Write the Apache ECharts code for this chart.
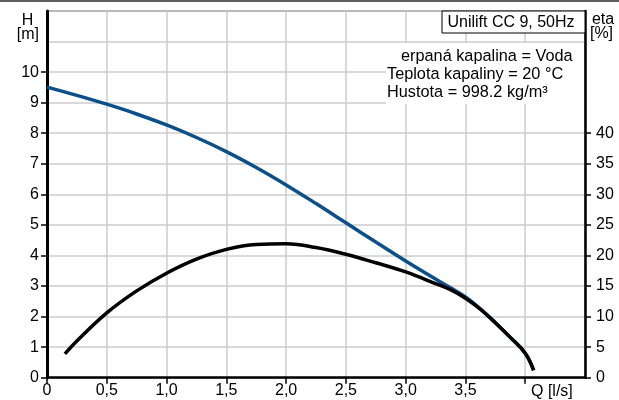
<!DOCTYPE html>
<html><head><meta charset="utf-8">
<script src="https://cdn.jsdelivr.net/npm/echarts@6/dist/echarts.min.js"></script>
<style>html,body{margin:0;padding:0;background:#fff}#c{width:619px;height:400px}</style>
</head><body><div id="c"></div>
<script>
var qH = [0, 0.25, 0.5, 0.75, 1.0, 1.25, 1.5, 1.75, 2.0, 2.25, 2.5, 2.75, 3.0, 3.25, 3.375, 3.5, 3.625, 3.75, 3.875, 4.0, 4.07];
var headH = [9.51, 9.24, 8.95, 8.63, 8.27, 7.86, 7.40, 6.88, 6.31, 5.70, 5.07, 4.44, 3.82, 3.23, 2.94, 2.64, 2.25, 1.80, 1.32, 0.80, 0.25];
var qEta = [0.15, 0.25, 0.5, 0.75, 1.0, 1.25, 1.5, 1.75, 2.0, 2.25, 2.5, 2.75, 3.0, 3.25, 3.375, 3.5, 3.625, 3.75, 3.875, 4.0, 4.07];
var etaPct = [3.9, 6.0, 10.6, 14.2, 17.1, 19.4, 21.0, 21.8, 21.9, 21.3, 20.2, 18.8, 17.3, 15.4, 14.4, 13.0, 11.2, 9.0, 6.6, 4.0, 1.2];
var xLabelVals = [0, 0.5, 1.0, 1.5, 2.0, 2.5, 3.0, 3.5];
var xTickVals = [0, 0.5, 1.0, 1.5, 2.0, 2.5, 3.0, 3.5, 4.0];
var hTickVals = [0, 1, 2, 3, 4, 5, 6, 7, 8, 9, 10];
var etaTickVals = [0, 5, 10, 15, 20, 25, 30, 35, 40];
var titleText = 'Unilift CC 9, 50Hz';
var infoLines = ['erpaná kapalina = Voda', 'Teplota kapaliny = 20 °C', 'Hustota = 998.2 kg/m³'];

var FONT = '"Liberation Sans", Arial, sans-serif';
var chart = echarts.init(document.getElementById('c'), null, {renderer: 'canvas'});
function pairs(xs, ys) { return xs.map(function (x, i) { return [x, ys[i]]; }); }
var gridLine = {show: true, lineStyle: {color: '#cccccc', width: 1.5}};
var hidden = {show: false};
function txt(t, x, y, align, size) {
  return {type: 'text', x: x, y: y, z: 7, style: {text: t, align: align || 'left', verticalAlign: 'middle', font: (size || 16) + 'px ' + FONT, fill: '#000'}};
}
var option = {
  animation: false,
  backgroundColor: '#fff',
  grid: {left: 47, right: 34, top: 11, bottom: 22.3, show: true, borderColor: '#000', borderWidth: 1, outerBoundsMode: 'none'},
  xAxis: [{
    type: 'value', min: 0, max: 4.5, interval: 0.5,
    axisLine: hidden, axisTick: hidden, axisLabel: hidden,
    splitLine: gridLine, z: 0
  }, {
    type: 'value', min: 0, max: 4.5, interval: 0.5, position: 'bottom',
    axisLine: {onZero: false, lineStyle: {color: '#000', width: 2.5}},
    axisTick: {customValues: xTickVals, length: 6, lineStyle: {color: '#000', width: 1.5}},
    axisLabel: {customValues: xLabelVals, margin: 5, fontFamily: FONT, fontSize: 16, color: '#000',
      formatter: function (v) { return v === 0 ? '0' : v.toFixed(1).replace('.', ','); }},
    splitLine: hidden, z: 2
  }],
  yAxis: [{
    type: 'value', min: 0, max: 12, interval: 1, position: 'left',
    axisLine: {show: true, onZero: false, lineStyle: {color: '#000', width: 3}},
    axisTick: {show: true, customValues: hTickVals, length: 6, lineStyle: {color: '#000', width: 1.5}},
    axisLabel: {customValues: hTickVals, margin: 8, fontFamily: FONT, fontSize: 16, color: '#000'},
    splitLine: hidden, z: 2
  }, {
    type: 'value', min: 0, max: 60, interval: 5, position: 'right',
    axisLine: {show: true, onZero: false, lineStyle: {color: '#000', width: 2.5}},
    axisTick: {show: true, customValues: etaTickVals, length: 6, lineStyle: {color: '#000', width: 1.5}},
    axisLabel: {customValues: etaTickVals, margin: 11, fontFamily: FONT, fontSize: 16, color: '#000'},
    splitLine: hidden, z: 2
  }, {
    type: 'value', min: 0, max: 12, interval: 1, position: 'left',
    axisLine: hidden, axisTick: hidden, axisLabel: hidden,
    splitLine: gridLine, z: 0
  }],
  series: [{
    type: 'line', xAxisIndex: 1, yAxisIndex: 0, data: pairs(qH, headH), showSymbol: false, smooth: 0.4,
    lineStyle: {color: '#0b4f8b', width: 3.5}, z: 3
  }, {
    type: 'line', xAxisIndex: 1, yAxisIndex: 1, data: pairs(qEta, etaPct), showSymbol: false, smooth: 0.4,
    lineStyle: {color: '#000', width: 3.5}, z: 4
  }],
  graphic: [
    {type: 'rect', shape: {x: 0, y: 0, width: 619, height: 2}, style: {fill: '#606060'}, z: 10},
    {type: 'rect', shape: {x: 386, y: 43, width: 198, height: 61}, style: {fill: '#fff'}, z: 5},
    {type: 'rect', shape: {x: 442, y: 11, width: 143, height: 22}, style: {fill: '#fff', stroke: '#000', lineWidth: 1}, z: 6},
    txt(titleText, 511, 22.5, 'center'),
    txt(infoLines[0], 401, 57, 'left', 16.3),
    txt(infoLines[1], 387, 75, 'left', 16.3),
    txt(infoLines[2], 387, 93, 'left', 16.3),
    txt('H', 27.5, 20.5, 'center'),
    txt('[m]', 27.8, 35, 'center'),
    txt('eta', 603, 19.5, 'center'),
    txt('[%]', 601.5, 33.5, 'center'),
    txt('Q [l/s]', 531, 392)
  ]
};
chart.setOption(option);
</script></body></html>
